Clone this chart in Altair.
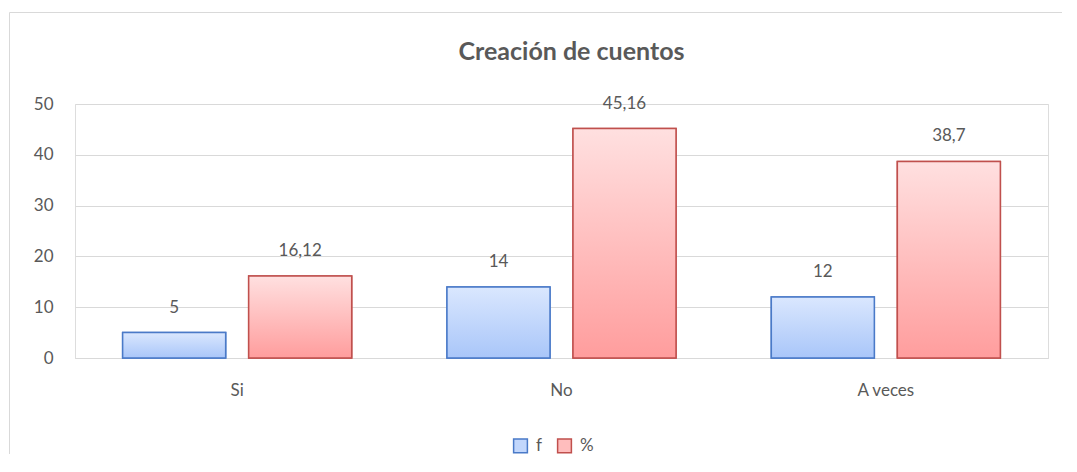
import altair as alt
import pandas as pd

categories = ["Si", "No", "A veces"]
series = ["f", "%"]
f_values = [5, 14, 12]
pct_values = [16.12, 45.16, 38.7]

rows = []
for c, fv, pv in zip(categories, f_values, pct_values):
    rows.append({"cat": c, "series": "f", "value": fv})
    rows.append({"cat": c, "series": "%", "value": pv})
df = pd.DataFrame(rows)

FONT = "Lato"
TXT = "#595959"
GRID = "#d9d9d9"

blue_grad = alt.Gradient(
    gradient="linear",
    stops=[alt.GradientStop(color="#dae7fe", offset=0),
           alt.GradientStop(color="#a9c6f9", offset=1)],
    x1=0, x2=0, y1=0, y2=1,
)
red_grad = alt.Gradient(
    gradient="linear",
    stops=[alt.GradientStop(color="#ffe0e0", offset=0),
           alt.GradientStop(color="#ff9d9d", offset=1)],
    x1=0, x2=0, y1=0, y2=1,
)

x_enc = alt.X("cat:N", sort=categories, title=None,
              scale=alt.Scale(paddingInner=0, paddingOuter=0),
              axis=alt.Axis(labelAngle=0, ticks=False, domainColor=GRID,
                            labelFont=FONT, labelFontSize=17, labelColor=TXT,
                            labelPadding=24, grid=False))
y_enc = alt.Y("value:Q", title=None,
              scale=alt.Scale(domain=[0, 50], nice=False),
              axis=alt.Axis(values=[0, 10, 20, 30, 40, 50], ticks=False,
                            domain=False, gridColor=GRID, labelFont=FONT,
                            labelFontSize=17, labelColor=TXT, labelPadding=22))
xoff = alt.XOffset("series:N", sort=series,
                   scale=alt.Scale(domain=series, paddingInner=0.1825,
                                   paddingOuter=0.378))

base = alt.Chart(df)

legend_bars = base.mark_bar(strokeWidth=1.5).encode(
    x=x_enc, y=y_enc, xOffset=xoff,
    fill=alt.Fill("series:N", sort=series,
                  scale=alt.Scale(domain=series, range=["#c2d7fc", "#ffbdbd"]),
                  legend=alt.Legend(title=None, orient="none", direction="horizontal",
                                    legendX=437, legendY=333,
                                    symbolType="square", symbolSize=190,
                                    symbolStrokeWidth=1.5, labelFont=FONT,
                                    labelFontSize=17, labelColor=TXT,
                                    columnPadding=12, labelOffset=7)),
    stroke=alt.Stroke("series:N", sort=series,
                      scale=alt.Scale(domain=series, range=["#4a7ac8", "#c0504d"]),
                      legend=alt.Legend(title=None, orient="none", direction="horizontal",
                                        legendX=437, legendY=333)),
)

blue_bars = base.transform_filter(alt.datum.series == "f").mark_bar(
    color=blue_grad, stroke="#4a7ac8", strokeWidth=1.5
).encode(x=x_enc, y=y_enc, xOffset=xoff)

red_bars = base.transform_filter(alt.datum.series == "%").mark_bar(
    color=red_grad, stroke="#c0504d", strokeWidth=1.5
).encode(x=x_enc, y=y_enc, xOffset=xoff)

labels = base.transform_calculate(
    label="replace(toString(datum.value), '.', ',')"
).mark_text(font=FONT, fontSize=17, color=TXT, baseline="middle", dy=-25).encode(
    x=x_enc, y=y_enc, xOffset=xoff, text="label:N"
)

frame = alt.Chart(pd.DataFrame({"a": [0]})).mark_rect(
    fillOpacity=0, stroke=GRID, strokeWidth=1
).encode(x=alt.value(-65.5), x2=alt.value(1200), y=alt.value(-91.5), y2=alt.value(600))

chart = alt.layer(frame, legend_bars, blue_bars, red_bars, labels).properties(
    width=973, height=254,
    title=alt.Title("Creación de cuentos", font=FONT, fontSize=25, fontWeight="bold",
                    color=TXT, anchor="middle", offset=-53, dx=10),
    autosize=alt.AutoSizeParams(type="none"),
    padding={"left": 67, "top": 96, "right": 14, "bottom": 96},
).configure_view(stroke=None).configure(background="white")

chart.save("out.html", embed_options={"renderer": "svg", "actions": False})
